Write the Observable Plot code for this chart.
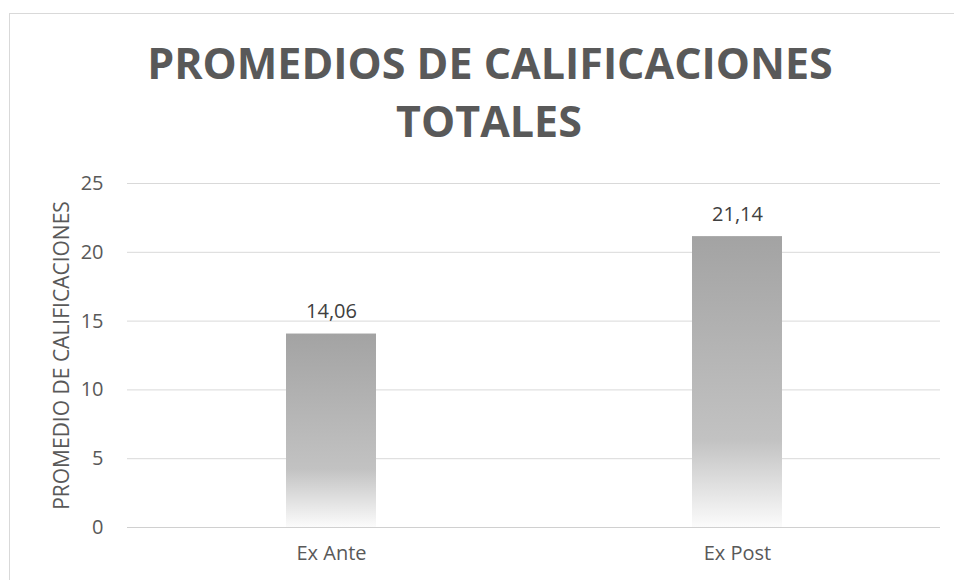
<!DOCTYPE html>
<html><head><meta charset="utf-8">
<script src="https://cdn.jsdelivr.net/npm/d3@7"></script>
<script src="https://cdn.jsdelivr.net/npm/@observablehq/plot@0.6"></script>
<style>body{margin:0;background:#fff;overflow:hidden}</style>
</head><body><div id="chart"></div>
<script>
const categories = ["Ex Ante", "Ex Post"];
const values = [14.06, 21.14];
const valueLabels = ["14,06", "21,14"];
const yTicks = [0, 5, 10, 15, 20, 25];
const titleLines = ["PROMEDIOS DE CALIFICACIONES", "TOTALES"];
const yLabel = "PROMEDIO DE CALIFICACIONES";

const data = categories.map((c, i) => ({category: c, value: values[i], label: valueLabels[i]}));

const W = 954, H = 580;
const font = "'Open Sans', sans-serif";

const defsMark = () => {
  const d = d3.create("svg:defs");
  const g = d.append("linearGradient").attr("id", "barGrad")
    .attr("x1", 0).attr("y1", 0).attr("x2", 0).attr("y2", 1);
  g.append("stop").attr("offset", "0").attr("stop-color", "#a3a3a3");
  g.append("stop").attr("offset", "0.7").attr("stop-color", "#c2c2c2");
  g.append("stop").attr("offset", "1").attr("stop-color", "#fbfbfb");
  return d.node();
};

const frameMark = () => {
  const r = d3.create("svg:rect")
    .attr("x", 9.5).attr("y", 13.5).attr("width", W).attr("height", H)
    .attr("fill", "none").attr("stroke", "#d9d9d9").attr("stroke-width", 1);
  return r.node();
};

const titleMark = () => {
  const g = d3.create("svg:g")
    .attr("font-family", font).attr("font-weight", "bold")
    .attr("font-size", 43).attr("fill", "#595959").attr("text-anchor", "middle");
  g.append("text").attr("x", 490).attr("y", 79).text(titleLines[0]);
  g.append("text").attr("x", 489).attr("y", 137).text(titleLines[1]);
  return g.node();
};

const chart = Plot.plot({
  width: W,
  height: H,
  marginLeft: 127,
  marginRight: 14,
  marginTop: 183,
  marginBottom: 53,
  style: {fontFamily: font, fontSize: "20px", color: "#595959", background: "#fff"},
  x: {type: "band", domain: categories, paddingInner: 0.7786, paddingOuter: 0.3893, label: null},
  y: {domain: [0, 25], label: null},
  marks: [
    defsMark,
    frameMark,
    titleMark,
    Plot.gridY(yTicks, {stroke: "#d9d9d9", strokeOpacity: 1, strokeWidth: 1}),
    Plot.barY(data, {x: "category", y: "value", fill: "url(#barGrad)"}),
    Plot.ruleY([0], {stroke: "#d0d0d0", strokeWidth: 1}),
    Plot.axisY(yTicks, {tickSize: 0, tickPadding: 24, fontSize: 20, fill: "#595959", label: null}),
    Plot.axisX({tickSize: 0, tickPadding: 18, fontSize: 20, fill: "#595959", label: null}),
    Plot.text(data, {x: "category", y: "value", text: "label", dy: -22, fontSize: 20, fill: "#404040"}),
    Plot.text([yLabel], {frameAnchor: "left", dx: -65, rotate: -90, textAnchor: "middle", fontSize: 21, fill: "#595959"})
  ]
});
document.getElementById("chart").appendChild(chart);
</script>
</body></html>
